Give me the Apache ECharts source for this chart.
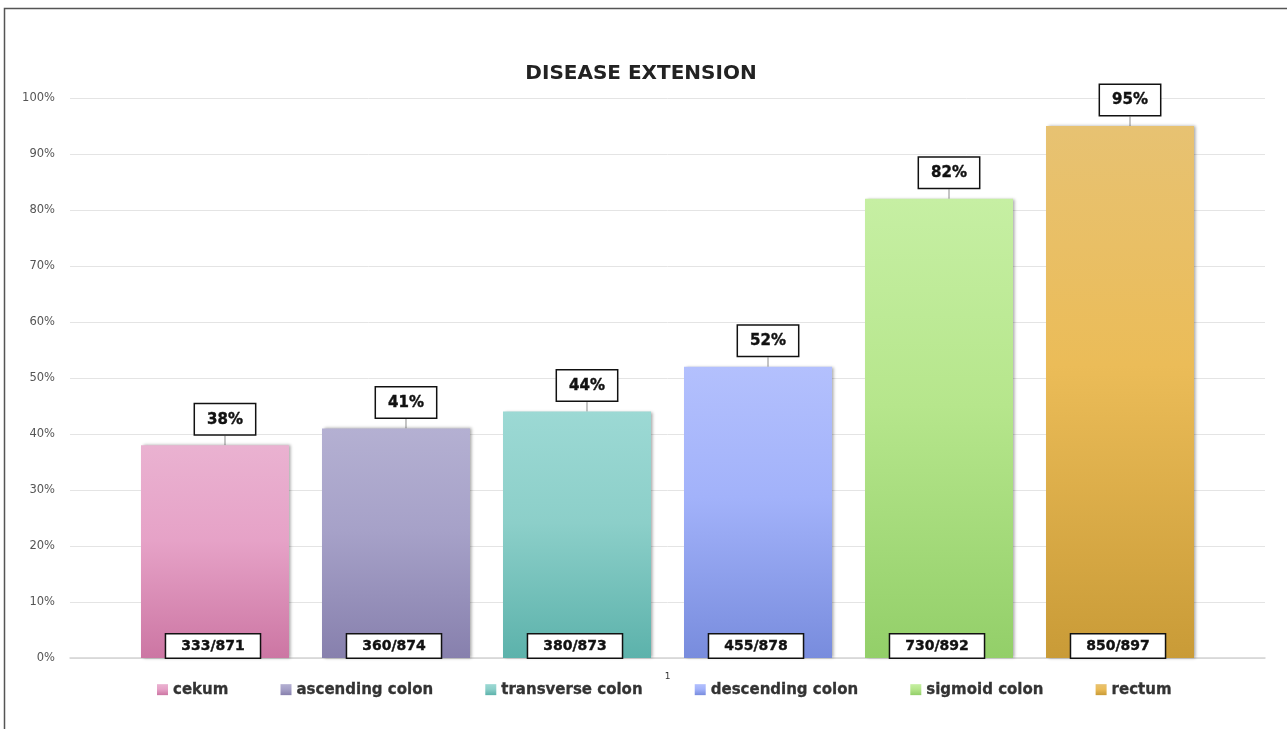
<!DOCTYPE html>
<html>
<head>
<meta charset="utf-8">
<title>Disease extension</title>
<script src="https://cdn.jsdelivr.net/npm/echarts@6/dist/echarts.min.js"></script>
<style>
  html, body { margin: 0; padding: 0; background: #fff; }
  #chart { width: 1287px; height: 729px; }
</style>
</head>
<body>
<div id="chart"></div>
<script>
// Segments of the colon and the share of patients with involvement of each
const categories = ['1'];
const segments = ['cekum', 'ascending colon', 'transverse colon', 'descending colon', 'sigmoid colon', 'rectum'];
const percents = [38, 41, 44, 52, 82, 95];
const counts = ['333/871', '360/874', '380/873', '455/878', '730/892', '850/897'];
const yTicks = [0, 10, 20, 30, 40, 50, 60, 70, 80, 90, 100];

// gradient stops per segment: [top, middle, bottom]
const palette = [
  ['#eab2d1', '#e6a2c7', '#cc76a3'],
  ['#b4b0d2', '#a6a1c8', '#8780ad'],
  ['#9cd9d4', '#8ccfc9', '#5cb2ab'],
  ['#b3c0fd', '#a2b2fa', '#788cdd'],
  ['#c6efa3', '#b6e68c', '#93cf69'],
  ['#e7c272', '#ebbc58', '#c99b37']
];

const labelFont = '"DejaVu Sans", Verdana, sans-serif';

const series = segments.map((name, i) => ({
  name: name,
  type: 'bar',
  barWidth: 148,
  barGap: '22.3%',
  data: [percents[i]],
  itemStyle: {
    color: new echarts.graphic.LinearGradient(0, 0, 0, 1, [
      { offset: 0, color: palette[i][0] },
      { offset: 0.45, color: palette[i][1] },
      { offset: 1, color: palette[i][2] }
    ]),
    shadowColor: 'rgba(0,0,0,0.35)',
    shadowBlur: 3,
    shadowOffsetX: 2,
    shadowOffsetY: 0
  },
  label: {
    show: true,
    position: 'top',
    distance: 0,
    formatter: p => p.value + '%',
    fontFamily: labelFont,
    fontWeight: 'bold',
    fontSize: 15,
    color: '#111',
    textBorderColor: '#111',
    textBorderWidth: 0.4,
    backgroundColor: '#fff',
    borderColor: '#111',
    borderWidth: 1.5,
    padding: [8, 12, 7, 12]
  },
  labelLayout: { dx: 10, dy: -11 },
  labelLine: {
    show: true,
    lineStyle: { color: '#8a8a8a', width: 1 }
  },
  markPoint: {
    symbol: 'rect',
    symbolSize: 1,
    itemStyle: { color: 'rgba(0,0,0,0)' },
    label: {
      show: true,
      position: 'top',
      distance: 0,
      offset: [-2, 0],
      formatter: () => counts[i],
      fontFamily: labelFont,
      fontWeight: 'bold',
      fontSize: 14,
      color: '#111',
      textBorderColor: '#111',
      textBorderWidth: 0.4,
      backgroundColor: '#fff',
      borderColor: '#111',
      borderWidth: 1.5,
      padding: [5, 15, 4, 15]
    },
    data: [{ coord: [categories[0], 0] }]
  }
}));

const chart = echarts.init(document.getElementById('chart'), null, { renderer: 'canvas' });

chart.setOption({
  backgroundColor: '#fff',
  animation: false,
  title: {
    text: 'DISEASE EXTENSION',
    left: 636,
    textAlign: 'center',
    top: 59,
    textStyle: {
      fontFamily: labelFont,
      fontWeight: 'bold',
      fontSize: 20,
      color: '#222'
    }
  },
  legend: {
    data: segments,
    top: 677,
    left: 152,
    icon: 'rect',
    itemWidth: 11,
    itemHeight: 11,
    itemGap: 52,
    textStyle: {
      fontFamily: labelFont,
      fontWeight: 'bold',
      fontSize: 15,
      color: '#333',
      textBorderColor: '#333',
      textBorderWidth: 0.3
    }
  },
  grid: { left: 70, right: 22, top: 98, bottom: 71 },
  xAxis: {
    type: 'category',
    data: categories,
    axisLine: { lineStyle: { color: '#d4d4d4', width: 1.5 } },
    axisTick: { show: false },
    axisLabel: {
      margin: 14,
      fontFamily: labelFont,
      fontSize: 9,
      color: '#333'
    }
  },
  yAxis: {
    type: 'value',
    min: yTicks[0],
    max: yTicks[yTicks.length - 1],
    interval: 10,
    axisLine: { show: false },
    axisTick: { show: false },
    splitLine: { lineStyle: { color: '#e4e4e4', width: 1 } },
    axisLabel: {
      margin: 15,
      formatter: v => v + '%',
      fontFamily: labelFont,
      fontSize: 11.5,
      color: '#555'
    }
  },
  graphic: [
    {
      type: 'polyline',
      silent: true,
      shape: { points: [[4.5, 729], [4.5, 8.5], [1287, 8.5]] },
      style: { stroke: '#555', lineWidth: 1.5, fill: null }
    }
  ],
  series: series
});
</script>
</body>
</html>
